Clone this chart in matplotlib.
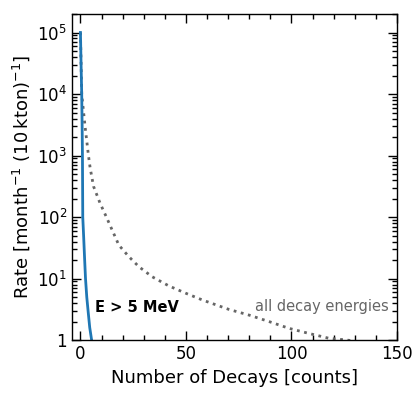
import numpy as np
import matplotlib.pyplot as plt
from matplotlib.ticker import FixedLocator, LogLocator, NullFormatter, MultipleLocator

# values
# E > 5 MeV curve
hi_x = [0, 0.3, 0.6, 0.8, 0.95, 1.1, 1.5, 2.0, 2.4, 3.0, 3.7, 4.4, 5.3]
hi_y = [1e5, 3e4, 1e4, 3e3, 1e3, 1e2, 50, 20, 10, 5, 2.8, 1.6, 1.0]

# all decay energies curve
all_x = [0, 0.6, 2.2, 3.8, 4.6, 6.2, 9.3, 12.3, 18.2, 22.9, 27.7, 34.0,
         41.9, 49.8, 57.7, 65.6, 70.4, 79.9, 89.4, 98.9, 108.4, 117.8,
         124.0, 129.7]
all_y = [1e5, 1e4, 2950, 1e3, 630, 316, 168, 100, 35, 22.8, 15.6, 10.7,
         7.6, 5.8, 4.5, 3.6, 3.15, 2.55, 2.0, 1.55, 1.28, 1.07, 1.02, 0.97]

fig = plt.figure(figsize=(4.15, 3.95), dpi=100)
ax = fig.add_axes([0.1735, 0.139, 0.783, 0.8256])

ax.plot(all_x, all_y, ls=":", lw=2, color="#666666")
ax.plot(hi_x, hi_y, ls="-", lw=2, color="#1f77b4")

ax.set_yscale("log")
ax.set_xlim(-4, 150)
ax.set_ylim(1, 2e5)

ax.xaxis.set_major_locator(MultipleLocator(50))
ax.xaxis.set_minor_locator(MultipleLocator(10))
ax.yaxis.set_major_locator(FixedLocator([1, 1e1, 1e2, 1e3, 1e4, 1e5]))
ax.yaxis.set_minor_locator(LogLocator(base=10, subs=np.arange(2, 10), numticks=20))
ax.yaxis.set_minor_formatter(NullFormatter())
ax.set_yticklabels(["1", "$10^1$", "$10^2$", "$10^3$", "$10^4$", "$10^5$"])

ax.tick_params(which="both", direction="in", top=True, right=True, labelsize=12)
ax.tick_params(which="major", length=6.5, width=1)
ax.tick_params(which="minor", length=3.3, width=1)
for s in ax.spines.values():
    s.set_linewidth(1)

ax.set_xlabel("Number of Decays [counts]", fontsize=13)
ax.set_ylabel(r"Rate [month$^{-1}$ (10$\,$kton)$^{-1}$]", fontsize=13)

ax.text(7, 3.45, "E > 5 MeV", fontsize=10.5, fontweight="bold", va="center")
ax.text(146, 3.55, "all decay energies", fontsize=10.5, color="#666666",
        ha="right", va="center")

fig.savefig("out.png", dpi=100)
